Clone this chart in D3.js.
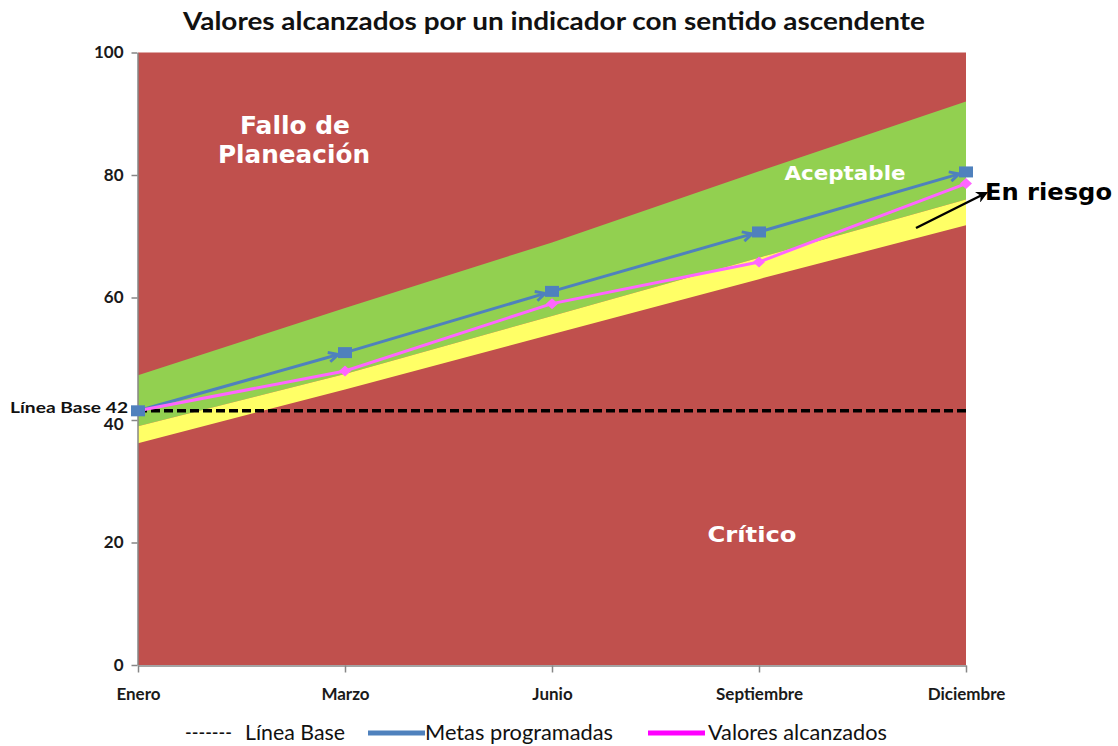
<!DOCTYPE html>
<html><head><meta charset="utf-8">
<script src="https://cdn.jsdelivr.net/npm/d3@7/dist/d3.min.js"></script>
<style>body{margin:0;background:#fff}svg{display:block}</style>
</head><body>
<svg id="c" width="1118" height="746"></svg>
<script>
const categories = ["Enero","Marzo","Junio","Septiembre","Diciembre"];
const metas = [41.5, 51, 61, 70.7, 80.5];
const valores = [41.5, 48, 59, 65.8, 78.6];
const greenTop = [47.3, 58.3, 69, 80.6, 92];
const yellowTop = [39, 47.5, 57, 66.5, 76];
const yellowBottom = [36.2, 45, 54, 63, 71.8];
const lineaBase = 41.5;
const lineaBaseLabel = "Línea Base 42";
const yTicks = [0, 20, 40, 60, 80, 100];

const svg = d3.select("#c");
const x = d3.scalePoint().domain(categories).range([138, 966]);
const y = d3.scaleLinear().domain([0, 100]).range([665, 52.5]);

const defs = svg.append("defs");
defs.append("marker").attr("id","ab").attr("viewBox","0 0 10 10").attr("refX",9).attr("refY",5)
  .attr("markerWidth",12).attr("markerHeight",12).attr("markerUnits","userSpaceOnUse").attr("orient","auto")
  .append("path").attr("d","M1,1 L9,5 L1,9").attr("fill","none").attr("stroke","#4F81BD").attr("stroke-width",2.4);
defs.append("marker").attr("id","ak").attr("viewBox","0 0 10 10").attr("refX",8).attr("refY",5)
  .attr("markerWidth",12).attr("markerHeight",12).attr("markerUnits","userSpaceOnUse").attr("orient","auto")
  .append("path").attr("d","M0,0 L10,5 L0,10 L3,5Z").attr("fill","#000");

// background
svg.append("rect").attr("x", x(categories[0])).attr("y", y(100))
  .attr("width", x(categories[4]) - x(categories[0])).attr("height", y(0) - y(100)).attr("fill", "#C0504D");

const rows = categories.map((c,i)=>({c, gt:greenTop[i], yt:yellowTop[i], yb:yellowBottom[i]}));
svg.append("path").datum(rows).attr("fill","#92D050")
  .attr("d", d3.area().x(d=>x(d.c)).y0(d=>y(d.yt)).y1(d=>y(d.gt)));
svg.append("path").datum(rows).attr("fill","#FFFF66")
  .attr("d", d3.area().x(d=>x(d.c)).y0(d=>y(d.yb)).y1(d=>y(d.yt)));

// axes
const gy = svg.append("g").attr("transform", `translate(${x(categories[0])-0.5},0)`)
  .call(d3.axisLeft(y).tickValues(yTicks).tickSize(6).tickSizeOuter(0).tickPadding(8));
gy.select(".domain").attr("stroke","#868686").attr("stroke-width",1.5);
gy.selectAll(".tick line").attr("stroke","#868686").attr("stroke-width",1.5);
gy.selectAll(".tick text").attr("font-family","Lato, sans-serif").attr("font-weight","bold").attr("font-size",17).attr("fill","#1a1a1a").attr("dy","0.3em");
gy.selectAll(".tick text").filter(d=>d===40).attr("dy","0.55em");

const gx = svg.append("g").attr("transform", `translate(0,${y(0)+0.5})`)
  .call(d3.axisBottom(x).tickSize(7).tickSizeOuter(0).tickPadding(15));
gx.select(".domain").attr("stroke","#868686").attr("stroke-width",1.5);
gx.selectAll(".tick line").attr("stroke","#868686").attr("stroke-width",1.5);
gx.selectAll(".tick text").attr("font-family","Lato, sans-serif").attr("font-weight","bold").attr("font-size",17).attr("fill","#1a1a1a");

// linea base
svg.append("line").attr("x1", x(categories[0])).attr("x2", x(categories[4]))
  .attr("y1", y(lineaBase)).attr("y2", y(lineaBase))
  .attr("stroke","#000").attr("stroke-width",3.5).attr("stroke-dasharray","9,4");
svg.append("text").attr("x", 10).attr("y", y(lineaBase)+2)
  .attr("font-family","Lato, sans-serif").attr("font-weight","bold").attr("font-size",15).attr("fill","#111")
  .attr("textLength",118).attr("lengthAdjust","spacingAndGlyphs")
  .text(lineaBaseLabel);

// metas line with arrows
const mPts = categories.map((c,i)=>[x(c), y(metas[i])]);
for (let i=0;i<mPts.length-1;i++){
  const [x0,y0]=mPts[i],[x1,y1]=mPts[i+1];
  const L=Math.hypot(x1-x0,y1-y0), k=(L-7)/L;
  svg.append("line").attr("x1",x0).attr("y1",y0).attr("x2",x0+(x1-x0)*k).attr("y2",y0+(y1-y0)*k)
    .attr("stroke","#4F81BD").attr("stroke-width",3).attr("marker-end","url(#ab)");
}
// valores line
svg.append("path").datum(valores).attr("fill","none").attr("stroke","#FF66FF").attr("stroke-width",3)
  .attr("d", d3.line().x((d,i)=>x(categories[i])).y(d=>y(d)));
svg.selectAll(".vd").data(valores).enter().append("path")
  .attr("transform",(d,i)=>`translate(${x(categories[i])},${y(d)})`)
  .attr("d","M0,-5.5 L6,0 L0,5.5 L-6,0Z").attr("fill","#FF66FF");
svg.selectAll(".ms").data(metas).enter().append("rect")
  .attr("x",(d,i)=>x(categories[i])-7).attr("y",d=>y(d)-5.5).attr("width",14).attr("height",11).attr("fill","#4F81BD");

// zone labels
const zl = (t,xx,yy,fs,col,w)=>svg.append("text").attr("x",xx).attr("y",yy).attr("text-anchor","middle")
  .attr("font-family","DejaVu Sans, sans-serif").attr("font-weight","bold").attr("font-size",fs).attr("fill",col)
  .attr("textLength",w).attr("lengthAdjust","spacingAndGlyphs").text(t);
zl("Fallo de",295,134,24,"#fff",110);
zl("Planeación",294,163,24,"#fff",152);
zl("Aceptable",845,180,19,"#fff",121);
zl("Crítico",752,542,22,"#fff",89);
svg.append("text").attr("x",985).attr("y",200).attr("font-family","DejaVu Sans, sans-serif").attr("font-weight","bold")
  .attr("font-size",23).attr("fill","#000").attr("textLength",127).attr("lengthAdjust","spacingAndGlyphs").text("En riesgo");
svg.append("line").attr("x1",916).attr("y1",228).attr("x2",986).attr("y2",193)
  .attr("stroke","#000").attr("stroke-width",2.5).attr("marker-end","url(#ak)");

// title
svg.append("text").attr("x",554).attr("y",30).attr("text-anchor","middle")
  .attr("font-family","Lato, sans-serif").attr("font-weight","bold").attr("font-size",24).attr("fill","#111")
  .attr("textLength",742).attr("lengthAdjust","spacingAndGlyphs")
  .text("Valores alcanzados por un indicador con sentido ascendente");

// legend
const lg = svg.append("g").attr("font-family","Lato, sans-serif").attr("font-size",21).attr("fill","#111");
lg.append("text").attr("x",185).attr("y",740).attr("textLength",47).attr("lengthAdjust","spacingAndGlyphs").text("-------");
lg.append("text").attr("x",245).attr("y",740).attr("textLength",100).attr("lengthAdjust","spacingAndGlyphs").text("Línea Base");
lg.append("line").attr("x1",368).attr("x2",425).attr("y1",733).attr("y2",733).attr("stroke","#4F81BD").attr("stroke-width",5);
lg.append("text").attr("x",425).attr("y",740).attr("textLength",188).attr("lengthAdjust","spacingAndGlyphs").text("Metas programadas");
lg.append("line").attr("x1",648).attr("x2",705).attr("y1",733).attr("y2",733).attr("stroke","#FF00FF").attr("stroke-width",5);
lg.append("text").attr("x",708).attr("y",740).attr("textLength",179).attr("lengthAdjust","spacingAndGlyphs").text("Valores alcanzados");
</script>
</body></html>
